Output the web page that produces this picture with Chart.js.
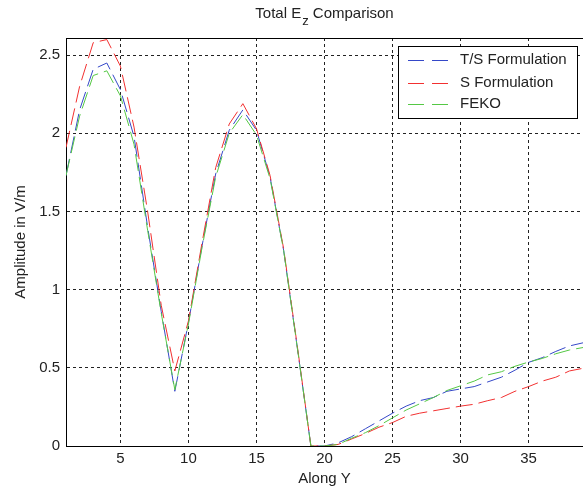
<!DOCTYPE html>
<html>
<head>
<meta charset="utf-8">
<script src="https://cdn.jsdelivr.net/npm/chart.js@4/dist/chart.umd.min.js"></script>
<style>
  html, body { margin: 0; padding: 0; background: #fff; overflow: hidden; }
  canvas { display: block; }
</style>
</head>
<body>
<canvas id="ezChart" width="583" height="489"></canvas>
<script>
// values
const alongY = [1, 2, 3, 4, 5, 6, 7, 8, 9, 10, 11, 12, 13, 14, 15, 16, 17, 18, 19, 20,
    21, 22, 23, 24, 25, 26, 27, 28, 29, 30, 31, 32, 33, 34, 35, 36, 37, 38, 39];

const tsFormulation = [1.73, 2.15, 2.41, 2.45, 2.28, 1.98, 1.40, 0.86, 0.35, 0.79,
    1.28, 1.74, 2.02, 2.15, 2.02, 1.72, 1.25, 0.63, 0.0, 0.0,
    0.02, 0.06, 0.11, 0.16, 0.21, 0.255, 0.29, 0.31, 0.35, 0.365,
    0.38, 0.41, 0.44, 0.485, 0.535, 0.565, 0.605, 0.64, 0.66];

const sFormulation = [1.91, 2.30, 2.58, 2.60, 2.43, 2.04, 1.50, 0.90, 0.48, 0.80,
    1.30, 1.78, 2.06, 2.19, 2.03, 1.73, 1.26, 0.64, 0.0, 0.0,
    0.01, 0.045, 0.08, 0.12, 0.15, 0.19, 0.21, 0.225, 0.24, 0.255,
    0.267, 0.29, 0.31, 0.35, 0.38, 0.415, 0.44, 0.48, 0.497];

const feko = [1.73, 2.11, 2.37, 2.40, 2.24, 1.93, 1.38, 0.85, 0.36, 0.78,
    1.27, 1.72, 2.00, 2.12, 1.99, 1.71, 1.25, 0.63, 0.0, 0.0,
    0.01, 0.05, 0.085, 0.13, 0.18, 0.23, 0.27, 0.31, 0.355, 0.385,
    0.415, 0.455, 0.475, 0.51, 0.537, 0.56, 0.59, 0.614, 0.63];

const seriesNames = ['T/S Formulation', 'S Formulation', 'FEKO'];
const seriesColors = ['#3548c8', '#f23030', '#55c845'];

const FONT = '"Liberation Sans", Arial, sans-serif';
const TEXT = '#222';

function toPoints(ys) {
    return alongY.map((x, i) => ({ x: x, y: ys[i] }));
}

// title with subscript, top frame line and the boxed legend
const matlabDecor = {
    id: 'matlabDecor',
    afterDraw(chart) {
        const ctx = chart.ctx;
        const area = chart.chartArea;
        ctx.save();

        // top edge of the axes box
        ctx.strokeStyle = '#000';
        ctx.lineWidth = 1;
        ctx.beginPath();
        ctx.moveTo(area.left, Math.round(area.top) + 0.5);
        ctx.lineTo(area.right, Math.round(area.top) + 0.5);
        ctx.stroke();

        // title: Total E_z Comparison
        ctx.fillStyle = TEXT;
        ctx.textBaseline = 'alphabetic';
        ctx.textAlign = 'left';
        ctx.font = '15px ' + FONT;
        const w1 = ctx.measureText('Total E').width;
        const w3 = ctx.measureText(' Comparison').width;
        ctx.font = '13px ' + FONT;
        const w2 = ctx.measureText('z').width;
        let tx = 324 - (w1 + w2 + w3) / 2;
        ctx.font = '15px ' + FONT;
        ctx.fillText('Total E', tx, 18);
        ctx.font = '13px ' + FONT;
        ctx.fillText('z', tx + w1 + 1, 25);
        ctx.font = '15px ' + FONT;
        ctx.fillText(' Comparison', tx + w1 + w2 + 1, 18);

        // legend box
        const bx = 398.5, by = 46.5, bw = 179, bh = 72;
        ctx.fillStyle = '#fff';
        ctx.fillRect(bx, by, bw, bh);
        ctx.strokeStyle = '#000';
        ctx.strokeRect(bx, by, bw, bh);
        const rows = [60, 82.5, 104];
        seriesNames.forEach((name, i) => {
            const y = Math.round(rows[i]) + 0.5;
            ctx.strokeStyle = seriesColors[i];
            ctx.lineWidth = 1;
            ctx.setLineDash([16, 8]);
            ctx.beginPath();
            ctx.moveTo(408, y);
            ctx.lineTo(450, y);
            ctx.stroke();
            ctx.setLineDash([]);
            ctx.fillStyle = TEXT;
            ctx.font = '15px ' + FONT;
            ctx.textBaseline = 'middle';
            ctx.fillText(name, 460, rows[i]);
        });
        ctx.restore();
    }
};

const ctx = document.getElementById('ezChart').getContext('2d');
const ezChart = new Chart(ctx, {
    type: 'line',
    data: {
        datasets: [
            { label: seriesNames[0], data: toPoints(tsFormulation), borderColor: seriesColors[0], order: 2 },
            { label: seriesNames[1], data: toPoints(sFormulation), borderColor: seriesColors[1], order: 1 },
            { label: seriesNames[2], data: toPoints(feko), borderColor: seriesColors[2], order: 0 }
        ]
    },
    options: {
        responsive: false,
        animation: false,
        devicePixelRatio: 1,
        layout: { padding: { top: 38, right: 0, bottom: 0, left: 0 } },
        elements: {
            line: { borderWidth: 1, tension: 0, borderDash: [17, 6], fill: false },
            point: { radius: 0, hoverRadius: 0 }
        },
        plugins: {
            legend: { display: false },
            title: { display: false },
            tooltip: { enabled: false }
        },
        scales: {
            x: {
                type: 'linear',
                min: 1,
                max: 39,
                afterFit: (s) => { s.height = 43; },
                afterBuildTicks: (s) => { s.ticks = s.ticks.filter(t => t.value % 5 === 0); },
                ticks: {
                    stepSize: 5,
                    includeBounds: false,
                    padding: 4,
                    color: TEXT,
                    font: { family: FONT, size: 15 },
                    callback: (v) => String(v)
                },
                grid: { color: '#222', lineWidth: 1, drawTicks: false },
                border: { display: true, color: '#000', width: 1, dash: [3, 3] },
                title: {
                    display: true,
                    text: 'Along Y',
                    color: TEXT,
                    font: { family: FONT, size: 15 },
                    padding: { top: 0, bottom: 1 }
                }
            },
            y: {
                min: 0,
                max: 2.61,
                afterFit: (s) => { s.width = 66; },
                afterBuildTicks: (s) => { s.ticks = s.ticks.filter(t => Math.abs(t.value * 2 - Math.round(t.value * 2)) < 1e-9); },
                ticks: {
                    stepSize: 0.5,
                    includeBounds: false,
                    padding: 6,
                    color: TEXT,
                    font: { family: FONT, size: 15 },
                    callback: (v) => String(v)
                },
                grid: { color: '#222', lineWidth: 1, drawTicks: false },
                border: { display: true, color: '#000', width: 1, dash: [3, 3] },
                title: {
                    display: true,
                    text: 'Amplitude in V/m',
                    color: TEXT,
                    font: { family: FONT, size: 15 },
                    padding: { top: 12, bottom: 0 }
                }
            }
        }
    },
    plugins: [matlabDecor]
});
</script>
</body>
</html>
